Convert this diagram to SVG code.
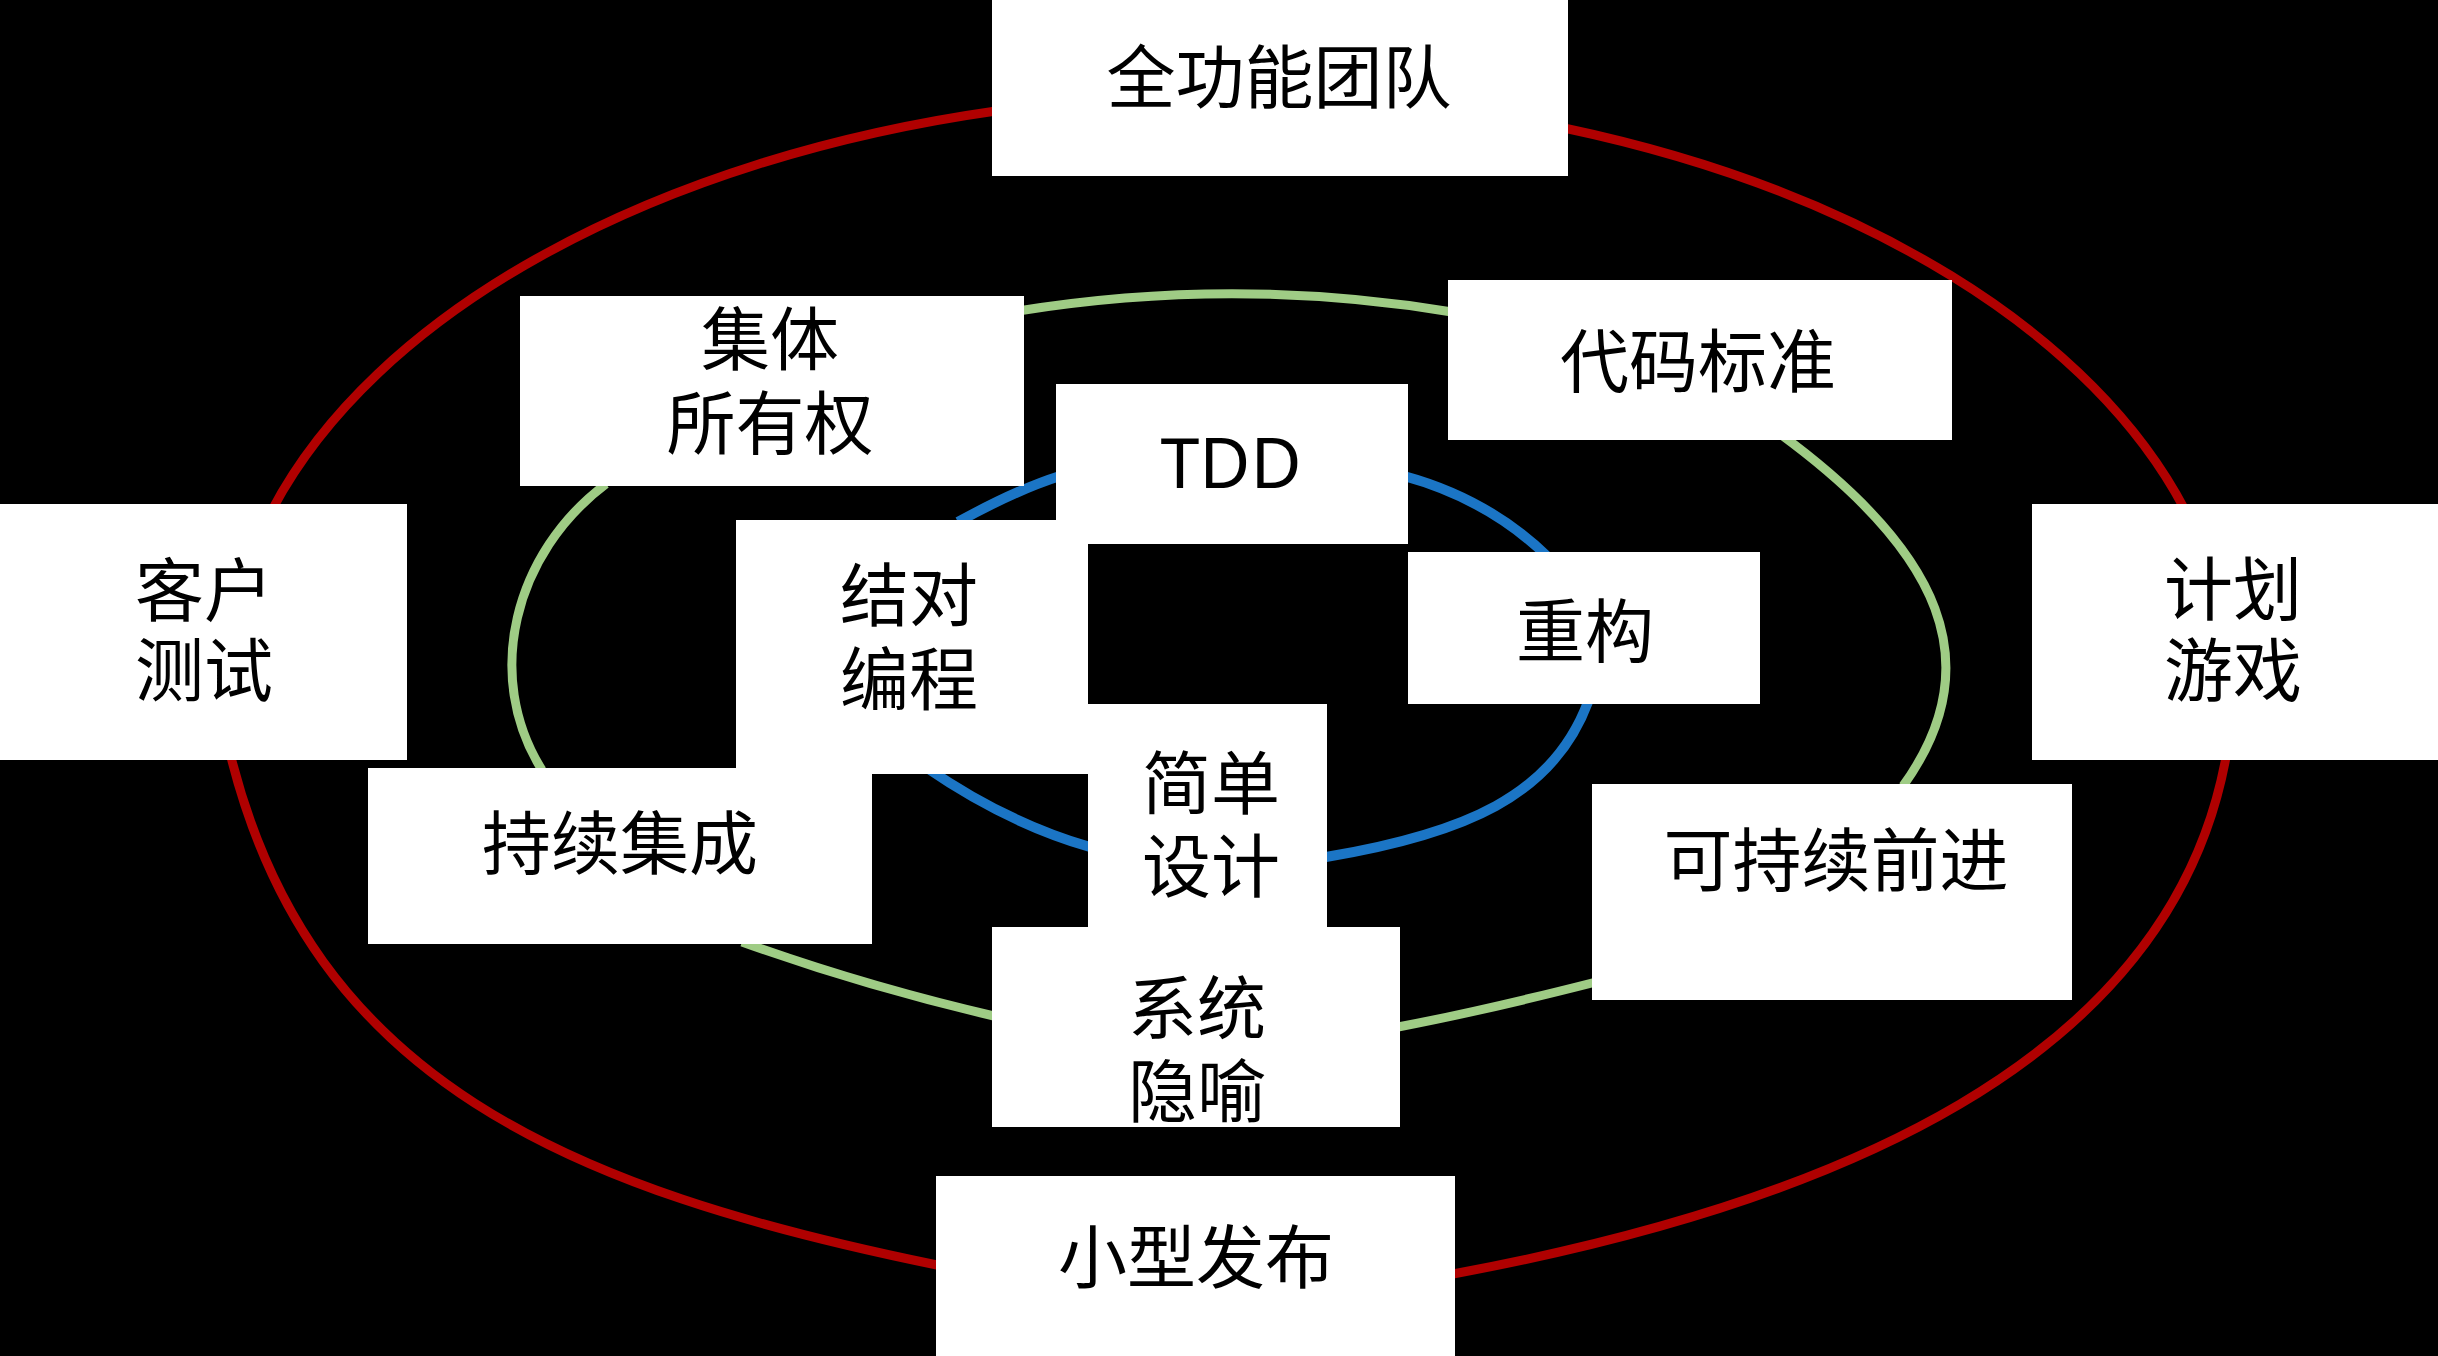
<svg xmlns="http://www.w3.org/2000/svg" width="2438" height="1356" viewBox="0 0 2438 1356">
<style>
.box{fill:#ffffff}
.t{font-family:"Noto Sans CJK SC","Noto Sans",sans-serif;font-size:69px;fill:#000000;text-anchor:middle}
.lat{font-family:"Noto Sans","Noto Sans CJK SC",sans-serif;font-size:70px;fill:#000000;text-anchor:middle}
.red{fill:none;stroke:#B00000;stroke-width:9}
.green{fill:none;stroke:#9FCC85;stroke-width:9}
.blue{fill:none;stroke:#1B75C5;stroke-width:10}
</style>
<rect x="0" y="0" width="2438" height="1356" fill="#000000"/>
<g id="connectors">
<path class="red" d="M996,111 A1005,590 0 0 0 272,510"/>
<path class="red" d="M1564,128 A1005,590 0 0 1 2185,510"/>
<path class="red" d="M231,757 C312,1079 565,1189 937,1265"/>
<path class="red" d="M2226,757 C2170,1064 1829,1204 1453,1274"/>
<path class="green" d="M1018,311 Q1235,276 1452,312"/>
<path class="green" d="M606,484 C514,553 483,676 542,770"/>
<path class="green" d="M1780,434 C1941,552 1991,664 1903,786"/>
<path class="green" d="M742,942 Q864,986 998,1017"/>
<path class="green" d="M1398,1027 Q1482,1011 1596,982"/>
<path class="blue" d="M1060,476 Q1016,490 958,522"/>
<path class="blue" d="M1404,476 Q1488,499 1547,556"/>
<path class="blue" d="M927,768 Q1007,823 1090,847"/>
<path class="blue" d="M1588,702 C1553,796 1464,834 1326,857"/>
</g>
<g id="n-quangongneng"><rect class="box" x="992" y="0" width="576" height="176"/><text class="t" x="1279" y="103">全功能团队</text></g>
<g id="n-jiti"><rect class="box" x="520" y="296" width="504" height="190"/><text class="t" x="770" y="365">集体</text><text class="t" x="770" y="449">所有权</text></g>
<g id="n-daima"><rect class="box" x="1448" y="280" width="504" height="160"/><text class="t" x="1698" y="387">代码标准</text></g>
<g id="n-kehu"><rect class="box" x="0" y="504" width="407" height="256"/><text class="t" x="204" y="616">客户</text><text class="t" x="204" y="696">测试</text></g>
<g id="n-jihua"><rect class="box" x="2032" y="504" width="406" height="256"/><text class="t" x="2233" y="615">计划</text><text class="t" x="2233" y="696">游戏</text></g>
<g id="n-tdd"><rect class="box" x="1056" y="384" width="352" height="160"/><text class="lat" x="1231" y="488">TDD</text></g>
<g id="n-jiedui"><rect class="box" x="736" y="520" width="352" height="254"/><text class="t" x="909" y="621">结对</text><text class="t" x="909" y="705">编程</text></g>
<g id="n-chonggou"><rect class="box" x="1408" y="552" width="352" height="152"/><text class="t" x="1585" y="657">重构</text></g>
<g id="n-chixujicheng"><rect class="box" x="368" y="768" width="504" height="176"/><text class="t" x="620" y="869">持续集成</text></g>
<g id="n-jiandan"><rect class="box" x="1088" y="704" width="239" height="223"/><text class="t" x="1211" y="809">简单</text><text class="t" x="1211" y="892">设计</text></g>
<g id="n-xitong"><rect class="box" x="992" y="927" width="408" height="200"/><text class="t" x="1197" y="1034">系统</text><text class="t" x="1197" y="1117">隐喻</text></g>
<g id="n-kechixu"><rect class="box" x="1592" y="784" width="480" height="216"/><text class="t" x="1836" y="886">可持续前进</text></g>
<g id="n-xiaoxing"><rect class="box" x="936" y="1176" width="519" height="180"/><text class="t" x="1196" y="1283">小型发布</text></g>
</svg>
